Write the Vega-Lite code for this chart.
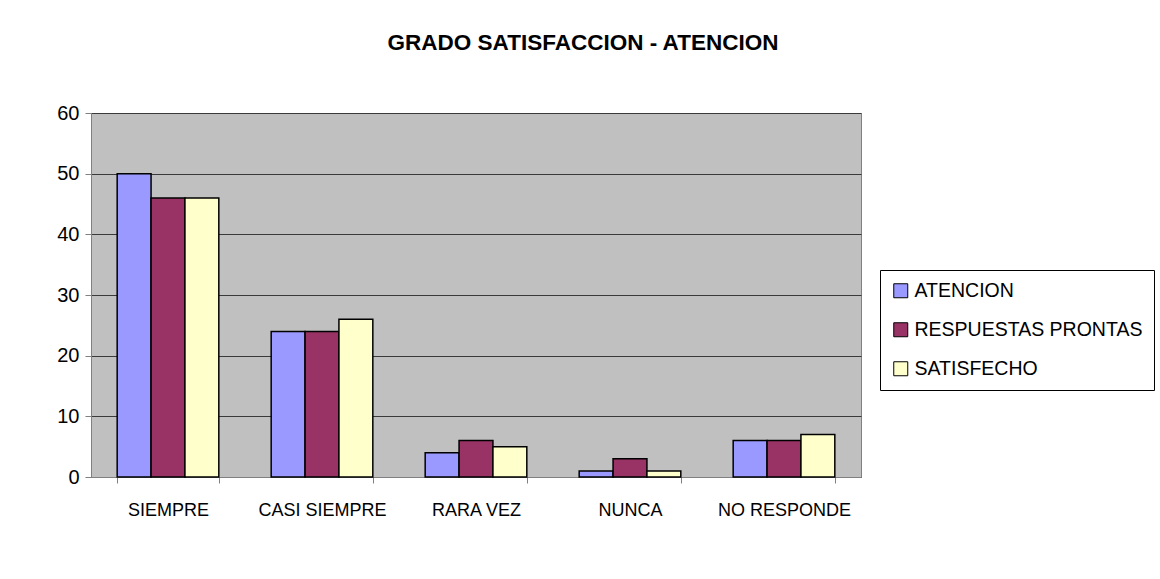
{
  "$schema": "https://vega.github.io/schema/vega-lite/v6.json",
  "autosize": "none",
  "width": 770,
  "height": 364,
  "padding": {"left": 91, "top": 113, "right": 299, "bottom": 102},
  "background": "white",
  "title": {
    "text": "GRADO SATISFACCION - ATENCION",
    "font": "Liberation Sans",
    "fontSize": 22.5,
    "fontWeight": "bold",
    "color": "black",
    "anchor": "middle",
    "dx": 107,
    "offset": 49
  },
  "data": {
    "values": [
      {"cat": "SIEMPRE", "serie": "ATENCION", "v": 50},
      {"cat": "SIEMPRE", "serie": "RESPUESTAS PRONTAS", "v": 46},
      {"cat": "SIEMPRE", "serie": "SATISFECHO", "v": 46},
      {"cat": "CASI SIEMPRE", "serie": "ATENCION", "v": 24},
      {"cat": "CASI SIEMPRE", "serie": "RESPUESTAS PRONTAS", "v": 24},
      {"cat": "CASI SIEMPRE", "serie": "SATISFECHO", "v": 26},
      {"cat": "RARA VEZ", "serie": "ATENCION", "v": 4},
      {"cat": "RARA VEZ", "serie": "RESPUESTAS PRONTAS", "v": 6},
      {"cat": "RARA VEZ", "serie": "SATISFECHO", "v": 5},
      {"cat": "NUNCA", "serie": "ATENCION", "v": 1},
      {"cat": "NUNCA", "serie": "RESPUESTAS PRONTAS", "v": 3},
      {"cat": "NUNCA", "serie": "SATISFECHO", "v": 1},
      {"cat": "NO RESPONDE", "serie": "ATENCION", "v": 6},
      {"cat": "NO RESPONDE", "serie": "RESPUESTAS PRONTAS", "v": 6},
      {"cat": "NO RESPONDE", "serie": "SATISFECHO", "v": 7}
    ]
  },
  "mark": {"type": "bar", "stroke": "black", "strokeWidth": 1.5},
  "encoding": {
    "x": {
      "field": "cat",
      "type": "nominal",
      "sort": ["SIEMPRE", "CASI SIEMPRE", "RARA VEZ", "NUNCA", "NO RESPONDE"],
      "scale": {"paddingInner": 0.34, "paddingOuter": 0.17},
      "axis": {
        "title": null,
        "labelAngle": 0,
        "labelFont": "Liberation Sans",
        "labelFontSize": 18,
        "labelColor": "black",
        "labelPadding": 18,
        "tickBand": "extent",
        "tickColor": "#808080",
        "tickSize": 6,
        "domainColor": "#808080",
        "grid": false
      }
    },
    "xOffset": {
      "field": "serie",
      "type": "nominal",
      "scale": {"paddingInner": 0, "paddingOuter": 0}
    },
    "y": {
      "field": "v",
      "type": "quantitative",
      "scale": {"domain": [0, 60], "nice": false},
      "axis": {
        "title": null,
        "values": [0, 10, 20, 30, 40, 50, 60],
        "labelFont": "Liberation Sans",
        "labelFontSize": 20,
        "labelColor": "black",
        "labelPadding": 6,
        "tickColor": "#808080",
        "tickSize": 6,
        "domainColor": "#808080",
        "grid": true,
        "gridColor": "#3a3a3a",
        "gridWidth": 1
      }
    },
    "color": {
      "field": "serie",
      "type": "nominal",
      "scale": {
        "domain": ["ATENCION", "RESPUESTAS PRONTAS", "SATISFECHO"],
        "range": ["#9999FF", "#993366", "#FFFFCC"]
      },
      "legend": {
        "title": null,
        "orient": "none",
        "legendX": 789,
        "legendY": 157,
        "symbolType": "square",
        "symbolSize": 196,
        "symbolStrokeColor": "black",
        "symbolStrokeWidth": 1,
        "symbolOpacity": 1,
        "labelFont": "Liberation Sans",
        "labelFontSize": 19.5,
        "labelLimit": 400,
        "labelColor": "black",
        "rowPadding": 18,
        "labelOffset": 4,
        "strokeColor": "black",
        "fillColor": "white",
        "padding": 11
      }
    }
  },
  "config": {
    "view": {"fill": "#C0C0C0", "stroke": "#808080", "strokeWidth": 1}
  }
}
